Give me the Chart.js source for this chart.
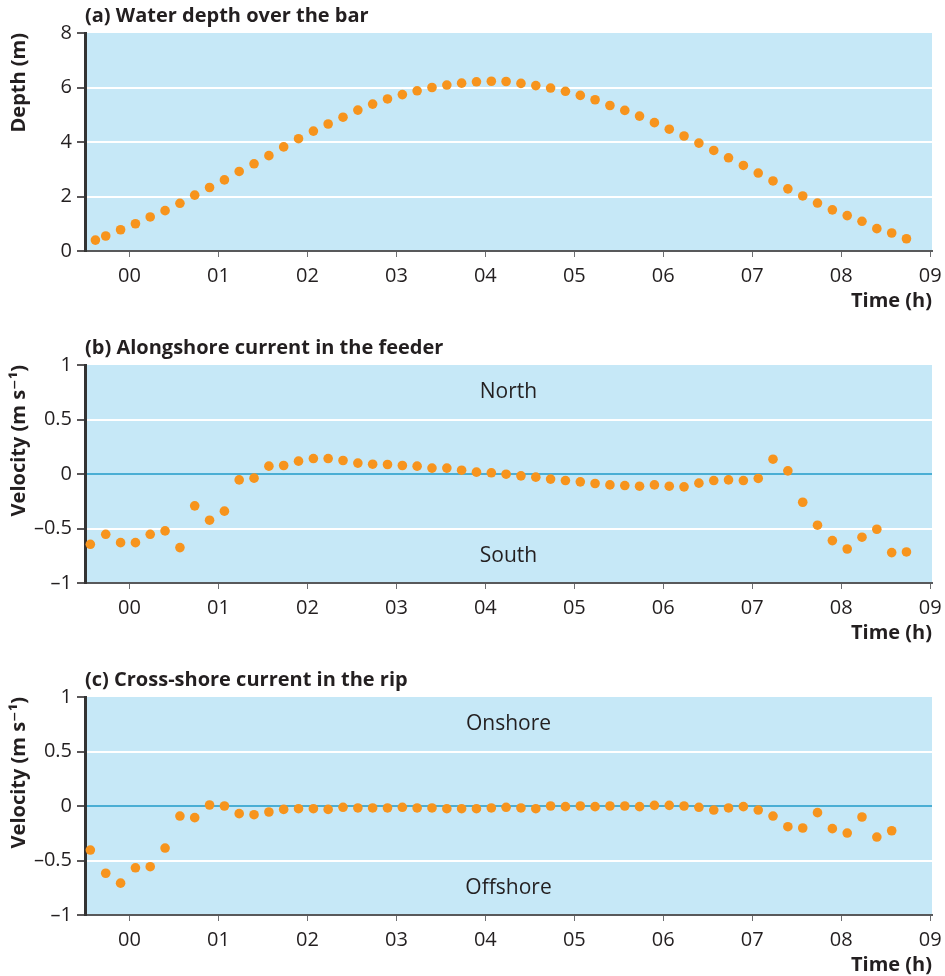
<!DOCTYPE html>
<html>
<head>
<meta charset="utf-8">
<script src="https://cdn.jsdelivr.net/npm/chart.js@4.4.0/dist/chart.umd.min.js"></script>
<style>
  html, body { margin: 0; padding: 0; background: #fff; overflow: hidden; }
  .panel { position: absolute; left: 0; width: 945px; height: 320px; }
</style>
</head>
<body>
<div class="panel" style="top:0px"><canvas id="chartA" width="945" height="320"></canvas></div>
<div class="panel" style="top:332px"><canvas id="chartB" width="945" height="320"></canvas></div>
<div class="panel" style="top:664px"><canvas id="chartC" width="945" height="320"></canvas></div>
<script>
// time of each sample, hours
var timesA = [-0.383, -0.267, -0.1, 0.067, 0.233, 0.4, 0.567, 0.733, 0.9, 1.067, 1.233, 1.4, 1.567, 1.733,
  1.9, 2.067, 2.233, 2.4, 2.567, 2.733, 2.9, 3.067, 3.233, 3.4, 3.567, 3.733, 3.9, 4.067, 4.233, 4.4,
  4.567, 4.733, 4.9, 5.067, 5.233, 5.4, 5.567, 5.733, 5.9, 6.067, 6.233, 6.4, 6.567, 6.733, 6.9, 7.067,
  7.233, 7.4, 7.567, 7.733, 7.9, 8.067, 8.233, 8.4, 8.567, 8.733];
var timesBC = [-0.44, -0.267, -0.1, 0.067, 0.233, 0.4, 0.567, 0.733, 0.9, 1.067, 1.233, 1.4, 1.567, 1.733,
  1.9, 2.067, 2.233, 2.4, 2.567, 2.733, 2.9, 3.067, 3.233, 3.4, 3.567, 3.733, 3.9, 4.067, 4.233, 4.4,
  4.567, 4.733, 4.9, 5.067, 5.233, 5.4, 5.567, 5.733, 5.9, 6.067, 6.233, 6.4, 6.567, 6.733, 6.9, 7.067,
  7.233, 7.4, 7.567, 7.733, 7.9, 8.067, 8.233, 8.4, 8.567, 8.733];

// (a) water depth, m
var depth = [0.40, 0.55, 0.78, 1.0, 1.25, 1.48, 1.75, 2.05, 2.33, 2.61, 2.92, 3.2, 3.5, 3.82, 4.12,
  4.4, 4.66, 4.91, 5.17, 5.39, 5.58, 5.74, 5.88, 6.0, 6.09, 6.16, 6.21, 6.23, 6.22, 6.15, 6.07, 5.98,
  5.86, 5.71, 5.55, 5.34, 5.16, 4.95, 4.71, 4.47, 4.22, 3.96, 3.69, 3.42, 3.14, 2.86, 2.57, 2.28, 2.02,
  1.76, 1.51, 1.30, 1.09, 0.82, 0.66, 0.45];

// (b) alongshore velocity, m/s
var alongshore = [-0.645, -0.553, -0.63, -0.63, -0.553, -0.522, -0.675, -0.292, -0.424, -0.341, -0.054,
  -0.038, 0.072, 0.078, 0.118, 0.142, 0.142, 0.124, 0.10, 0.09, 0.087, 0.078, 0.072, 0.054, 0.054, 0.035,
  0.017, 0.011, -0.002, -0.017, -0.029, -0.047, -0.06, -0.072, -0.087, -0.1, -0.106, -0.112, -0.1, -0.112,
  -0.118, -0.084, -0.06, -0.054, -0.06, -0.041, 0.136, 0.029, -0.259, -0.47, -0.611, -0.688, -0.58,
  -0.507, -0.721, -0.715];

// (c) cross-shore velocity, m/s
var crossshore = [-0.404, -0.617, -0.708, -0.567, -0.557, -0.386, -0.092, -0.107, 0.009, 0.0, -0.07,
  -0.08, -0.055, -0.031, -0.025, -0.025, -0.031, -0.012, -0.018, -0.018, -0.018, -0.012, -0.018, -0.018,
  -0.025, -0.025, -0.025, -0.018, -0.012, -0.018, -0.025, 0.0, -0.006, 0.0, -0.006, 0.0, 0.0, -0.006,
  0.006, 0.006, 0.0, -0.012, -0.037, -0.018, -0.006, -0.037, -0.092, -0.19, -0.202, -0.061, -0.208,
  -0.248, -0.101, -0.285, -0.227];

var xTickValues = [0, 1, 2, 3, 4, 5, 6, 7, 8, 9];
var xTickLabels = ['00', '01', '02', '03', '04', '05', '06', '07', '08', '09'];
var depthTicks = [0, 2, 4, 6, 8];
var depthTickLabels = ['0', '2', '4', '6', '8'];
var velTicks = [-1, -0.5, 0, 0.5, 1];
var velTickLabels = ['\u20131', '\u20130.5', '0', '0.5', '1'];

Chart.defaults.font.family = '"Open Sans", "DejaVu Sans", sans-serif';
Chart.defaults.color = '#231f20';

var TEXT = '#231f20';
var PLOT_BG = '#c6e8f7';
var DOT = '#f7941d';
var ZERO_LINE = '#4aaed4';

// background, panel title and region labels
var panelDecor = {
    id: 'panelDecor',
    beforeDraw: function(chart, args, opts) {
        var ctx = chart.ctx, a = chart.chartArea;
        ctx.save();
        ctx.fillStyle = PLOT_BG;
        ctx.fillRect(a.left, a.top, a.right - a.left, a.bottom - a.top);
        ctx.fillStyle = TEXT;
        ctx.font = 'bold 20px "Open Sans"';
        ctx.textAlign = 'left';
        ctx.textBaseline = 'middle';
        ctx.fillText(opts.title, a.left, a.top - 17);
        ctx.restore();
    },
    beforeDatasetsDraw: function(chart, args, opts) {
        var ctx = chart.ctx, a = chart.chartArea, y = chart.scales.y;
        ctx.save();
        ctx.fillStyle = TEXT;
        ctx.font = '21px "Open Sans"';
        ctx.textAlign = 'center';
        ctx.textBaseline = 'middle';
        (opts.regions || []).forEach(function(r) {
            ctx.fillText(r.text, (a.left + a.right) / 2, y.getPixelForValue(r.value));
        });
        ctx.restore();
    }
};

function makePanel(id, title, yTitle, times, values, yTicks, yLabels, zeroLine, regions) {
    var yMin = yTicks[0], yMax = yTicks[yTicks.length - 1];
    var points = values.map(function(v, i) { return { x: times[i], y: v }; });
    return new Chart(document.getElementById(id).getContext('2d'), {
        type: 'scatter',
        data: {
            datasets: [{
                data: points,
                pointRadius: 4.8,
                pointHoverRadius: 4.8,
                pointBackgroundColor: DOT,
                pointBorderWidth: 0,
                showLine: false
            }]
        },
        options: {
            responsive: false,
            animation: false,
            devicePixelRatio: 1,
            layout: { padding: { top: 33, left: 0, right: 13, bottom: 0 } },
            plugins: {
                legend: { display: false },
                tooltip: { enabled: false },
                panelDecor: { title: title, regions: regions }
            },
            scales: {
                x: {
                    type: 'linear',
                    min: -0.5,
                    max: 9.02,
                    afterBuildTicks: function(scale) {
                        scale.ticks = xTickValues.map(function(v) { return { value: v }; });
                    },
                    afterFit: function(scale) {
                        scale.height = 69;
                        scale.paddingLeft = 0;
                        scale.paddingRight = 0;
                    },
                    ticks: {
                        font: { size: 20 },
                        color: TEXT,
                        padding: 7,
                        maxRotation: 0,
                        callback: function(value, index) { return xTickLabels[index]; }
                    },
                    grid: {
                        drawOnChartArea: false,
                        drawTicks: true,
                        tickLength: 6,
                        tickColor: '#6d6e71',
                        tickWidth: 1
                    },
                    border: { color: '#58595b', width: 2 },
                    title: {
                        display: true,
                        text: 'Time (h)',
                        align: 'end',
                        color: TEXT,
                        font: { size: 20, weight: 'bold' },
                        padding: { top: 0, bottom: 7 }
                    }
                },
                y: {
                    type: 'linear',
                    min: yMin,
                    max: yMax,
                    afterBuildTicks: function(scale) {
                        scale.ticks = yTicks.map(function(v) { return { value: v }; });
                    },
                    afterFit: function(scale) {
                        scale.width = 85;
                        scale.paddingTop = 0;
                        scale.paddingBottom = 0;
                    },
                    ticks: {
                        font: { size: 20 },
                        color: TEXT,
                        padding: 5,
                        callback: function(value, index) { return yLabels[index]; }
                    },
                    grid: {
                        drawTicks: true,
                        tickLength: 8,
                        tickColor: '#231f20',
                        tickWidth: 1.5,
                        lineWidth: 2,
                        color: function(ctx) {
                            var v = ctx.tick ? ctx.tick.value : null;
                            if (v === yMin || v === yMax) return 'rgba(0,0,0,0)';
                            if (v === 0 && zeroLine) return ZERO_LINE;
                            return '#ffffff';
                        }
                    },
                    border: { color: '#333333', width: 3 },
                    title: {
                        display: true,
                        text: yTitle,
                        align: 'end',
                        color: TEXT,
                        font: { size: 20, weight: 'bold' },
                        padding: { top: 7, bottom: 0 }
                    }
                }
            }
        },
        plugins: [panelDecor]
    });
}

makePanel('chartA', '(a) Water depth over the bar', 'Depth (m)',
    timesA, depth, depthTicks, depthTickLabels, false, []);
makePanel('chartB', '(b) Alongshore current in the feeder', 'Velocity (m s\u207B\u00B9)',
    timesBC, alongshore, velTicks, velTickLabels, true,
    [{ text: 'North', value: 0.75 }, { text: 'South', value: -0.75 }]);
makePanel('chartC', '(c) Cross-shore current in the rip', 'Velocity (m s\u207B\u00B9)',
    timesBC, crossshore, velTicks, velTickLabels, true,
    [{ text: 'Onshore', value: 0.75 }, { text: 'Offshore', value: -0.75 }]);
</script>
</body>
</html>
